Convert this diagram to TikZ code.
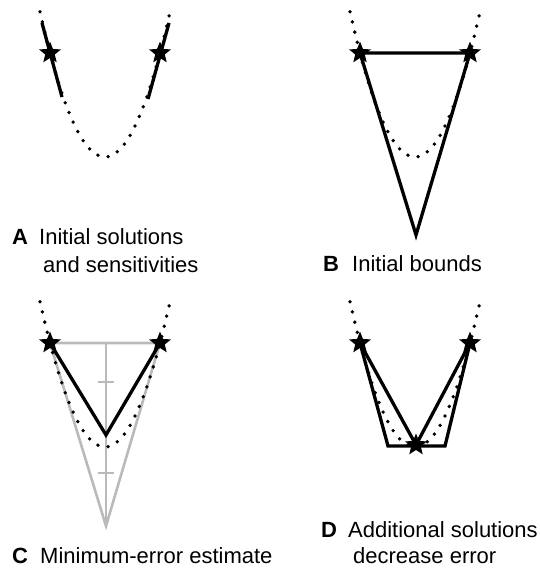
\documentclass[tikz,border=0pt]{standalone}
\usepackage{fontspec}
\setmainfont{Liberation Sans}
\usetikzlibrary{shapes.geometric}

% dotted error curve of one panel
\newcommand\bowl{\draw[curve] plot[domain=-65:65, samples=60, smooth] ({105+\x},{157-0.0344*\x*\x});}

\begin{document}
\begin{tikzpicture}[x=1pt, y=-1pt,
    every node/.style={font=\fontsize{22}{26}\selectfont, inner sep=0pt},
    lbl/.style={anchor=base west},
    sol/.style={star, star points=5, star point ratio=2.3, fill=black, minimum size=23pt},
    curve/.style={line width=3.8pt, line cap=round, dash pattern=on 0pt off 10.5pt},
    bound/.style={line width=3.3pt},
    est/.style={line width=2.6pt, color=black!27}]
    \useasboundingbox (0,0) rectangle (539,570);

    % A
    \begin{scope}
        \bowl
        \coordinate (aL) at (50,53);
        \coordinate (aR) at (160,53);
        \coordinate (aLt) at (42,23);
        \coordinate (aLb) at (62,97);
        \coordinate (aRt) at (169,23);
        \coordinate (aRb) at (148,99);
        \draw[bound] (aLt) -- (aLb);
        \draw[bound] (aRt) -- (aRb);
        \node[sol] (aLs) at (aL) {};
        \node[sol] (aRs) at (aR) {};
    \end{scope}
    \node[lbl] (la) at (12,244) {\textbf{A}};
    \node[lbl] (ta1) at (39,244) {Initial solutions};
    \node[lbl] (ta2) at (43,272) {and sensitivities};

    % B
    \begin{scope}[shift={(310,0)}]
        \bowl
        \coordinate (bL) at (50,53);
        \coordinate (bR) at (160,53);
        \coordinate (bApex) at (106,235);
        \draw[bound] (bL) -- (bR) -- (bApex) -- cycle;
        \node[sol] (bLs) at (bL) {};
        \node[sol] (bRs) at (bR) {};
    \end{scope}
    \node[lbl] (lb) at (323,271) {\textbf{B}};
    \node[lbl] (tb) at (352,271) {Initial bounds};

    % C
    \begin{scope}[shift={(0,290)}]
        \coordinate (cL) at (50,53);
        \coordinate (cR) at (160,53);
        \coordinate (cTop) at (106,53);
        \coordinate (cApex) at (106,236);
        \coordinate (cT1) at (106,92);
        \coordinate (cT2) at (106,183);
        \coordinate (cBot) at (106,145);
        \draw[est] (cL) -- (cApex) -- (cR) -- cycle;
        \draw[est] (cTop) -- (cApex);
        \draw[est] (cT1) ++(-8,0) -- ++(16,0);
        \draw[est] (cT2) ++(-8,0) -- ++(16,0);
        \bowl
        \draw[bound] (cL) -- (cBot) -- (cR);
        \node[sol] (cLs) at (cL) {};
        \node[sol] (cRs) at (cR) {};
    \end{scope}
    \node[lbl] (lc) at (12,563) {\textbf{C}};
    \node[lbl] (tc) at (40,563) {Minimum-error estimate};

    % D
    \begin{scope}[shift={(310,290)}]
        \bowl
        \coordinate (dL) at (50,53);
        \coordinate (dR) at (160,53);
        \coordinate (dM) at (106,155);
        \coordinate (dBL) at (78,156);
        \coordinate (dBR) at (135,156);
        \draw[bound] (dL) -- (dBL) -- (dBR) -- (dR);
        \draw[bound] (dL) -- (dM) -- (dR);
        \node[sol] (dLs) at (dL) {};
        \node[sol] (dRs) at (dR) {};
        \node[sol] (dMs) at (dM) {};
    \end{scope}
    \node[lbl] (ld) at (321,537) {\textbf{D}};
    \node[lbl] (td1) at (348,537) {Additional solutions};
    \node[lbl] (td2) at (353,563) {decrease error};
\end{tikzpicture}
\end{document}
